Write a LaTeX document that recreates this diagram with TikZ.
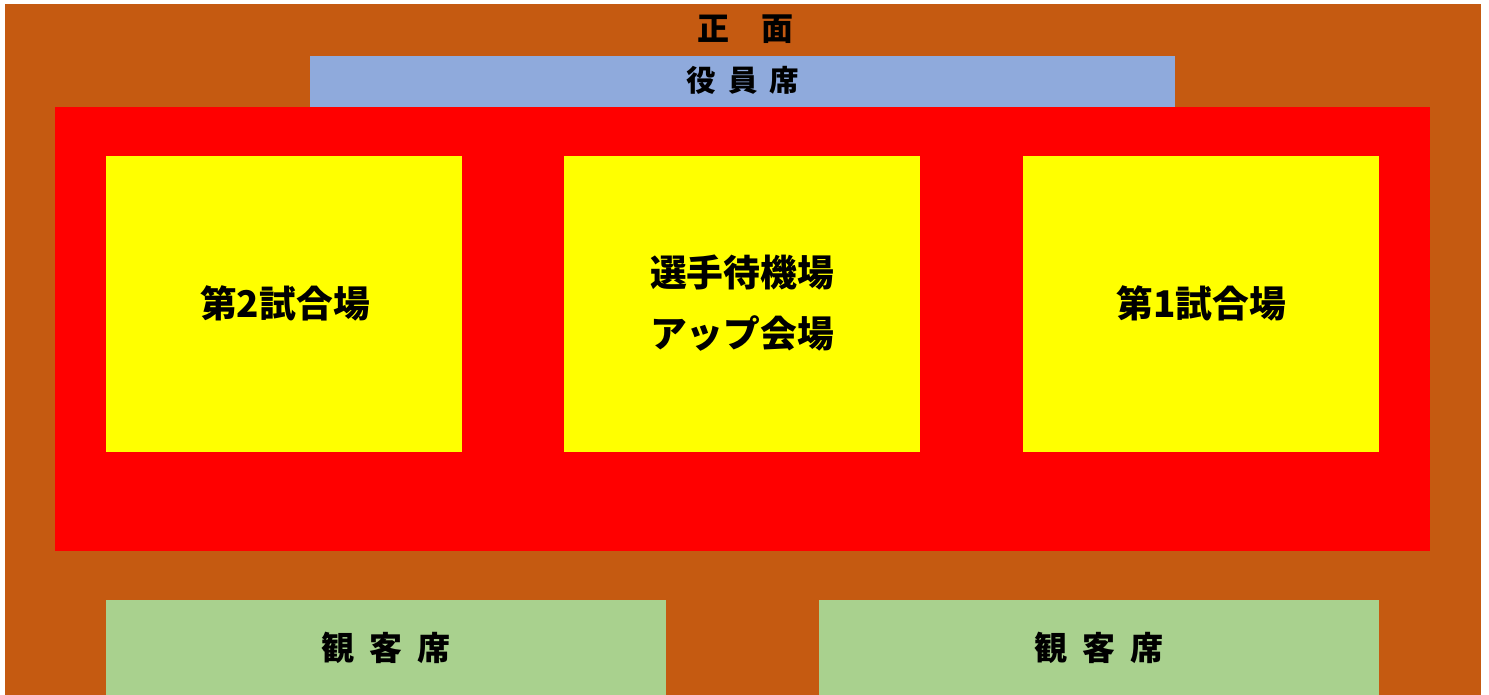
\documentclass[tikz,border=0pt]{standalone}
\usepackage{fontspec}
\newfontfamily\cjk{Noto Sans CJK JP}
\definecolor{brownbg}{HTML}{C55A11}
\definecolor{bluebox}{HTML}{8FAADC}
\definecolor{yellowbox}{HTML}{FFFF00}
\definecolor{greenbox}{HTML}{A9D18E}
\definecolor{redbox}{HTML}{FF0000}
\tikzset{
  lbl/.style={font=\cjk\bfseries\fontsize{32}{38}\selectfont, text=black, inner sep=0pt},
  biglbl/.style={font=\cjk\bfseries\fontsize{36.8}{61}\selectfont, text=black, inner sep=0pt, align=center}
}
\begin{document}
\begin{tikzpicture}[x=1pt,y=-1pt]
\useasboundingbox (0,0) rectangle (1489,695);
\fill[white] (0,0) rectangle (1489,695);
\fill[brownbg] (5,4) rectangle (1481,695);
\fill[bluebox] (310,56) rectangle (1175,107);
\fill[redbox] (55,107) rectangle (1430,551);
\fill[yellowbox] (106,156) rectangle (462,452);
\fill[yellowbox] (564,156) rectangle (920,452);
\fill[yellowbox] (1023,156) rectangle (1379,452);
\fill[greenbox] (106,600) rectangle (666,695);
\fill[greenbox] (819,600) rectangle (1379,695);
\node[lbl] (front) at (745,29) {正\hspace{1em}面};
\node[lbl,font=\cjk\bfseries\fontsize{29.5}{34}\selectfont] (officials) at (743,80) {役\hspace{0.4em}員\hspace{0.4em}席};
\node[biglbl] (court2) at (285,303) {第2試合場};
\node[biglbl] (wait) at (742,303) {選手待機場\\アップ会場};
\node[biglbl] (court1) at (1201,303) {第1試合場};
\node[lbl,font=\cjk\bfseries\fontsize{33}{38}\selectfont] (seatsL) at (386,648) {観\hspace{0.45em}客\hspace{0.45em}席};
\node[lbl,font=\cjk\bfseries\fontsize{33}{38}\selectfont] (seatsR) at (1099,648) {観\hspace{0.45em}客\hspace{0.45em}席};
\end{tikzpicture}
\end{document}
